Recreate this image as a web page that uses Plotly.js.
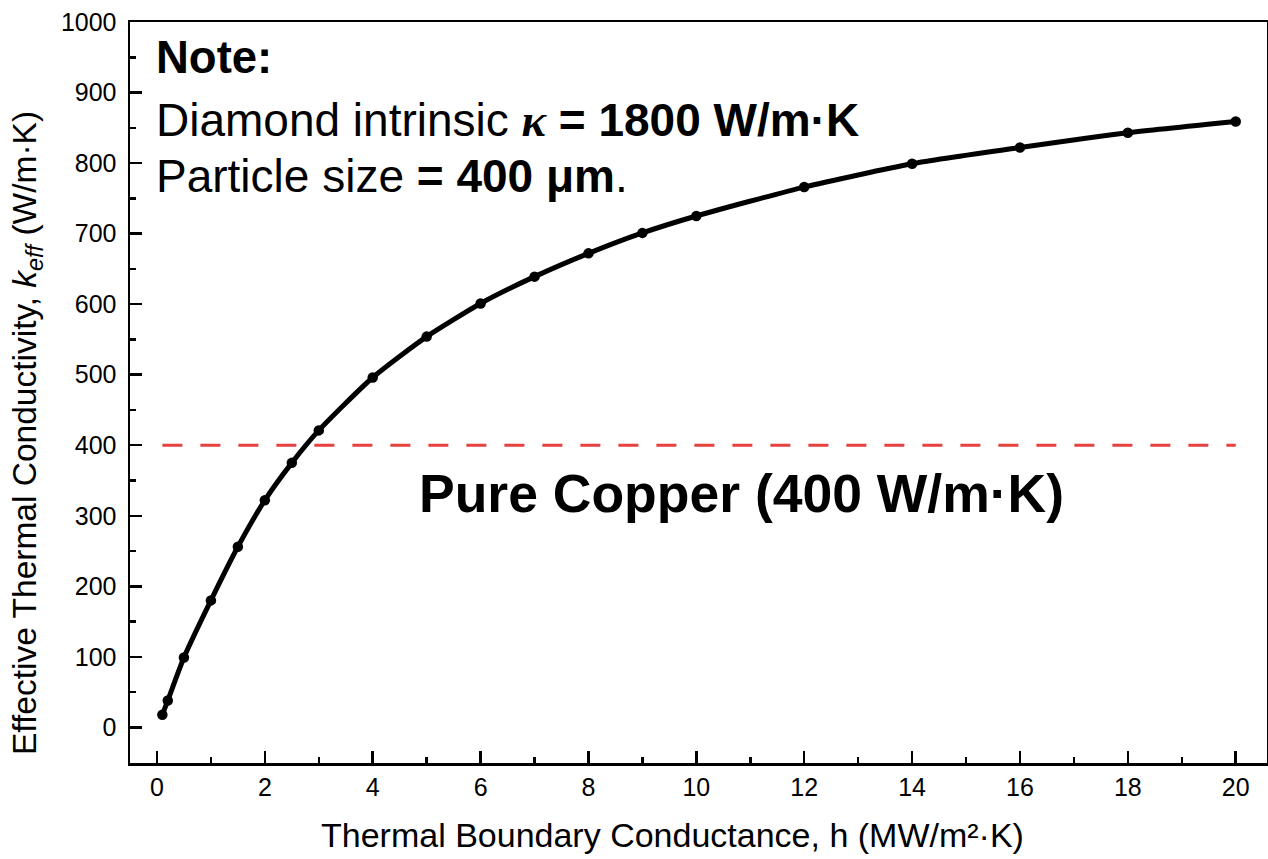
<!DOCTYPE html>
<html>
<head>
<meta charset="utf-8">
<script src="https://cdn.plot.ly/plotly-3.0.1.min.js"></script>
<style>
  html, body { margin: 0; padding: 0; background: #ffffff; }
  #chart { width: 1268px; height: 859px; }
</style>
</head>
<body>
<div id="chart"></div>
<script>
// Thermal boundary conductance h (MW/m²·K)
const conductance = [0.1, 0.2, 0.5, 1, 1.5, 2, 2.5, 3, 4, 5, 6, 7, 8, 9, 10, 12, 14, 16, 18, 20];
// Effective thermal conductivity k_eff (W/m·K)
const effectiveK = [18, 38, 99, 180, 256, 322, 375, 421, 496, 554, 601, 639, 672, 701, 725, 766, 799, 822, 843, 859];
// Pure copper reference level (W/m·K), drawn across this h span
const copperK = 400;
const copperSpan = [0.1, 20];

const xTicks = [0, 2, 4, 6, 8, 10, 12, 14, 16, 18, 20];
const yTicks = [0, 100, 200, 300, 400, 500, 600, 700, 800, 900, 1000];

const FONT = "Liberation Sans, Arial, sans-serif";

const traces = [
  {
    x: copperSpan,
    y: copperSpan.map(() => copperK),
    mode: "lines",
    line: { color: "#e8403f", width: 3, dash: "20px,18px" },
    hoverinfo: "skip",
    showlegend: false
  },
  {
    x: conductance,
    y: effectiveK,
    mode: "lines+markers",
    line: { color: "#000000", width: 5, shape: "spline", smoothing: 0.6 },
    marker: { color: "#000000", size: 10.5 },
    showlegend: false
  }
];

const axisCommon = {
  showgrid: false,
  zeroline: false,
  showline: true,
  linecolor: "#000000",
  linewidth: 2.5,
  mirror: true,
  ticks: "inside",
  ticklen: 12,
  tickwidth: 2.5,
  tickcolor: "#000000",
  tickfont: { family: FONT, size: 25, color: "#000000" },
  automargin: false
};

const layout = {
  width: 1268,
  height: 859,
  margin: { l: 130, r: 1, t: 22, b: 96 },
  paper_bgcolor: "#ffffff",
  plot_bgcolor: "#ffffff",
  font: { family: FONT, color: "#000000" },
  xaxis: Object.assign({}, axisCommon, {
    range: [-0.5, 20.58],
    tickmode: "array",
    tickvals: xTicks,
    ticktext: xTicks.map(String),
    minor: { tickmode: "linear", tick0: 1, dtick: 2, ticks: "inside", ticklen: 6, tickwidth: 2.5, tickcolor: "#000000" }
  }),
  yaxis: Object.assign({}, axisCommon, {
    range: [-50.5, 1000],
    tickmode: "array",
    tickvals: yTicks,
    ticktext: yTicks.map(String),
    ticklabelstandoff: 6,
    minor: { tickmode: "linear", tick0: 50, dtick: 100, ticks: "inside", ticklen: 6, tickwidth: 2.5, tickcolor: "#000000" }
  }),
  annotations: [
    {
      xref: "paper", yref: "paper", x: 0.4767, y: -0.097,
      xanchor: "center", yanchor: "middle", showarrow: false,
      text: "Thermal Boundary Conductance, h (MW/m²·K)",
      font: { family: FONT, size: 34, color: "#000000" }
    },
    {
      xref: "paper", yref: "paper", x: -0.0906, y: 0.4453,
      xanchor: "center", yanchor: "middle", showarrow: false, textangle: -90,
      text: "Effective Thermal Conductivity, <i>k</i><sub><i>eff</i></sub> (W/m·K)",
      font: { family: FONT, size: 33.5, color: "#000000" }
    },
    {
      xref: "x", yref: "y", x: -0.05, y: 949,
      xanchor: "left", yanchor: "middle", showarrow: false,
      text: "<b>Note:</b>",
      font: { family: FONT, size: 45.5, color: "#000000" }
    },
    {
      xref: "x", yref: "y", x: -0.05, y: 861,
      xanchor: "left", yanchor: "middle", showarrow: false,
      text: "Diamond intrinsic <span style=\"font-family:'Liberation Serif', 'Times New Roman', serif\"><b><i>κ</i></b></span> <b>= 1800 W/m·K</b>",
      font: { family: FONT, size: 46, color: "#000000" }
    },
    {
      xref: "x", yref: "y", x: -0.05, y: 782,
      xanchor: "left", yanchor: "middle", showarrow: false,
      text: "Particle size <b>= 400 μm</b>.",
      font: { family: FONT, size: 46, color: "#000000" }
    },
    {
      xref: "x", yref: "y", x: 10.83, y: 332,
      xanchor: "center", yanchor: "middle", showarrow: false,
      text: "<b>Pure Copper (400 W/m·K)</b>",
      font: { family: FONT, size: 53.5, color: "#000000" }
    }
  ]
};

Plotly.newPlot("chart", traces, layout, { displayModeBar: false, staticPlot: true });
</script>
</body>
</html>
